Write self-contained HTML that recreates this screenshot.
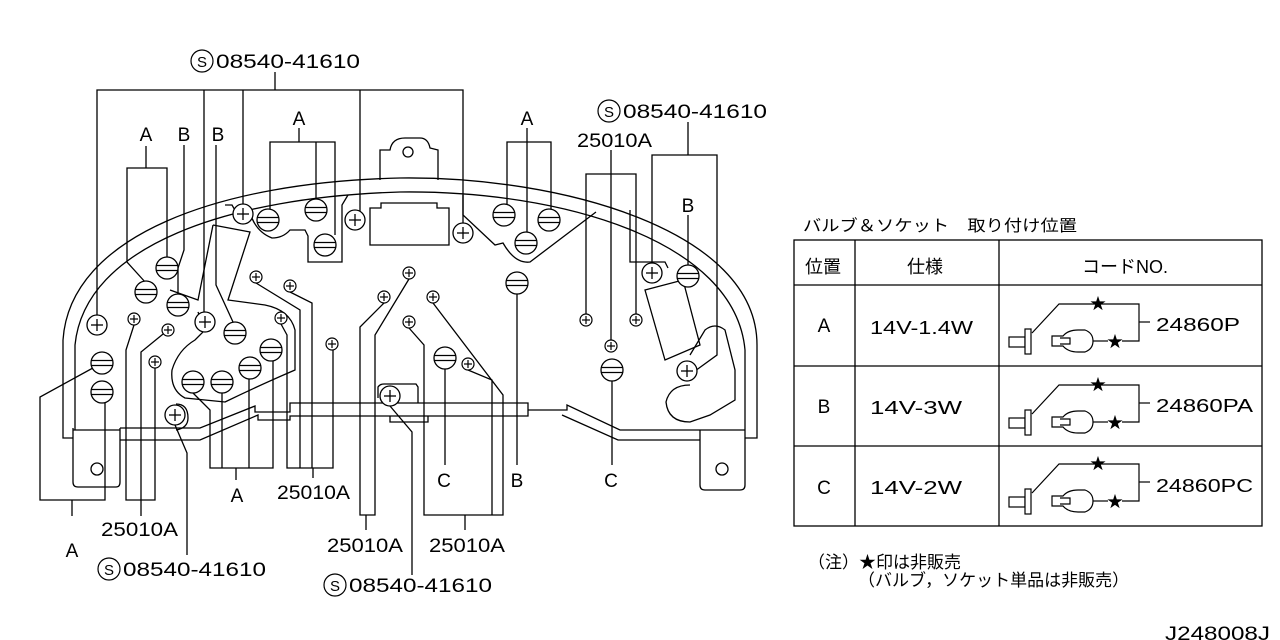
<!DOCTYPE html>
<html><head><meta charset="utf-8"><style>
html,body{margin:0;padding:0;background:#fff;}
svg{display:block;}
text{font-family:"Liberation Sans","Noto Sans CJK JP",sans-serif;fill:#000;}
</style></head><body>
<svg width="1280" height="640" viewBox="0 0 1280 640" xmlns="http://www.w3.org/2000/svg">
<defs>
<g id="bulb"><circle r="11" fill="#fff" stroke="#000" stroke-width="1.3"/><line x1="-10.5" y1="-2.5" x2="10.5" y2="-2.5" stroke="#000" stroke-width="1.3"/><line x1="-10.5" y1="2.5" x2="10.5" y2="2.5" stroke="#000" stroke-width="1.3"/></g>
<g id="scr"><circle r="10" fill="#fff" stroke="#000" stroke-width="1.3"/><line x1="-6" y1="0" x2="6" y2="0" stroke="#000" stroke-width="1.3"/><line x1="0" y1="-6" x2="0" y2="6" stroke="#000" stroke-width="1.3"/></g>
<g id="sm"><circle r="6" fill="#fff" stroke="#000" stroke-width="1.2"/><line x1="-4" y1="0" x2="4" y2="0" stroke="#000" stroke-width="1.2"/><line x1="0" y1="-4" x2="0" y2="4" stroke="#000" stroke-width="1.2"/></g>
<g id="cord" fill="none" stroke="#000" stroke-width="1.2">
<rect x="1009" y="337" width="16" height="10" fill="#fff"/>
<rect x="1025" y="329" width="6" height="25" fill="#fff"/>
<polyline points="1032,333 1059,304 1139,304 1139,341 1122,341"/>
<line x1="1139" y1="322" x2="1150" y2="322"/>
<path d="M1052,336 L1063,336 Q1068,330 1078,330 L1085,330 Q1093,333 1093,341 Q1093,349 1085,352 L1078,352 Q1068,352 1063,346 L1052,346 Z M1060,338 L1070,338 L1070,344 L1060,344"/>
<line x1="1093" y1="341" x2="1108" y2="341"/>
<text x="1098" y="309" font-size="16" text-anchor="middle" stroke="none" fill="#000">★</text>
<text x="1115" y="347" font-size="16" text-anchor="middle" stroke="none" fill="#000">★</text>
</g>
</defs>

<g fill="none" stroke="#000" stroke-width="1.3">
<!-- housing -->
<path d="M73,438 L63,438 L63,340 C70,235 220,182 400,178 C560,176 757,230 757,345 L757,438 L745,438"/>
<path d="M75,430 L75,345 C85,245 230,197 400,192 C560,190 735,240 745,350 L745,430"/>
<!-- top boss -->
<path d="M380,180 L380,150 L390,150 Q392,138 405,138 L420,138 Q428,138 430,148 L438,150 L438,180"/>
<circle cx="408" cy="152" r="5"/>
<path d="M370,208 L381,208 L381,203 L437,203 L437,208 L449,208 L449,245 L370,245 Z"/>
<!-- inner plates -->
<path d="M225,205 L232,205 L236,212 L250,213 Q256,232 272,238 Q283,238 290,230 L305,230 L308,236 L308,262 L342,262 L342,205 L348,195"/>
<path d="M463,195 L463,215 L495,245 L503,243 Q515,264 530,262 L596,212"/>
<path d="M630,210 L630,262 L665,262 L668,268"/>
<path d="M213,225 L250,232 L228,300 L265,305 Q290,310 295,330 L295,370 Q260,385 225,402 L185,398 Q170,390 172,370 Q178,350 195,340 L205,330 L198,312"/>
<path d="M213,225 L205,265 L198,300 L170,290"/>
<path d="M645,290 L683,280 L700,345 L665,360 Z"/>
<path d="M690,355 L705,330 Q715,322 725,330 L735,370 L735,400 L710,415 L690,422 Q668,422 666,402 Q670,385 690,385"/>
<!-- bottom bar -->
<path d="M73,430 L120,430 M120,428 L200,428 L255,406 L255,412 L290,412 L290,403 L528,403 L528,416 L290,416 L290,420 L258,420 L258,415 L200,440 L120,440"/>
<path d="M528,410 L567,410 L567,405 L620,430 L745,430"/>
<path d="M562,415 L618,440 L700,440"/>
<path d="M378,398 L378,387 Q380,384 384,384 L416,384 L418,387 L418,403"/>
<path d="M390,416 L390,422 L428,422 L428,416"/>
<path d="M73,428 L73,482 Q73,487 78,487 L116,487 Q120,487 120,482 L120,428"/>
<circle cx="97" cy="469" r="6"/>
<path d="M700,430 L700,485 Q700,490 705,490 L740,490 Q745,490 745,485 L745,430"/>
<circle cx="722" cy="469" r="6"/>
<path d="M176,404 Q188,404 188,418 Q188,428 176,430" />

<line x1="275" y1="72" x2="275" y2="90"/>
<polyline points="97,325 97,90 463,90 463,233"/>
<line x1="204" y1="90" x2="204" y2="322"/>
<line x1="243" y1="90" x2="243" y2="214"/>
<line x1="360" y1="90" x2="360" y2="220"/>
<line x1="146" y1="146" x2="146" y2="168"/>
<polyline points="146,283 127,262 127,168 167,168 167,258"/>
<polyline points="184,145 184,250 178,268 178,297"/>
<polyline points="216,145 216,285 233,322"/>
<line x1="299" y1="128" x2="299" y2="142"/>
<polyline points="270,210 270,142 335,142 335,235"/>
<line x1="316" y1="142" x2="316" y2="200"/>
<polyline points="507,205 507,142 551,142 551,210"/>
<line x1="527" y1="128" x2="527" y2="233"/>
<line x1="688" y1="122" x2="688" y2="155"/>
<polyline points="652,263 652,155 717,155 717,355 695,371"/>
<line x1="611" y1="150" x2="611" y2="340"/>
<polyline points="586,314 586,174 636,174 636,314"/>
<line x1="688" y1="215" x2="688" y2="266"/>
<polyline points="102,363 40,397 40,500 105,500 105,403"/>
<line x1="72" y1="500" x2="72" y2="516"/>
<polyline points="134,325 126,350 126,500 155,500 155,368"/>
<polyline points="168,330 141,352 141,500"/>
<line x1="141" y1="500" x2="141" y2="516"/>
<polyline points="175,425 187,453 187,555"/>
<polyline points="193,393 210,410 210,468 273,468 273,360"/>
<line x1="222" y1="393" x2="222" y2="468"/>
<line x1="249" y1="378" x2="249" y2="468"/>
<line x1="236" y1="468" x2="236" y2="480"/>
<polyline points="281,324 287,335 287,468 333,468 333,350"/>
<polyline points="256,283 300,310 300,468"/>
<polyline points="290,292 312,303 312,468"/>
<line x1="313" y1="468" x2="313" y2="478"/>
<polyline points="384,303 360,327 360,515 375,515 375,335 409,279"/>
<line x1="366" y1="515" x2="366" y2="530"/>
<polyline points="409,328 424,345 424,515 503,515 503,395 433,303"/>
<line x1="465" y1="515" x2="465" y2="530"/>
<polyline points="468,370 492,380 492,515"/>
<polyline points="390,406 412,432 412,575"/>
<line x1="445" y1="368" x2="445" y2="465"/>
<line x1="517" y1="293" x2="517" y2="465"/>
<line x1="612" y1="380" x2="612" y2="465"/>
</g>

<use href="#bulb" x="268" y="220"/><use href="#bulb" x="316" y="210"/><use href="#bulb" x="325" y="245"/>
<use href="#bulb" x="167" y="268"/><use href="#bulb" x="146" y="292"/><use href="#bulb" x="178" y="305"/>
<use href="#bulb" x="235" y="333"/><use href="#bulb" x="271" y="350"/><use href="#bulb" x="250" y="368"/>
<use href="#bulb" x="222" y="382"/><use href="#bulb" x="193" y="382"/>
<use href="#bulb" x="102" y="363"/><use href="#bulb" x="102" y="392"/>
<use href="#bulb" x="504" y="215"/><use href="#bulb" x="549" y="220"/><use href="#bulb" x="526" y="243"/>
<use href="#bulb" x="517" y="283"/><use href="#bulb" x="445" y="358"/><use href="#bulb" x="612" y="370"/><use href="#bulb" x="688" y="276"/>
<use href="#scr" x="243" y="214"/><use href="#scr" x="355" y="220"/><use href="#scr" x="463" y="233"/>
<use href="#scr" x="97" y="325"/><use href="#scr" x="205" y="322"/><use href="#scr" x="175" y="415"/>
<use href="#scr" x="390" y="396"/><use href="#scr" x="652" y="273"/><use href="#scr" x="687" y="371"/>
<use href="#sm" x="256" y="277"/><use href="#sm" x="290" y="286"/><use href="#sm" x="134" y="319"/>
<use href="#sm" x="168" y="330"/><use href="#sm" x="155" y="362"/><use href="#sm" x="281" y="318"/>
<use href="#sm" x="332" y="344"/><use href="#sm" x="409" y="273"/><use href="#sm" x="384" y="297"/>
<use href="#sm" x="433" y="297"/><use href="#sm" x="409" y="322"/><use href="#sm" x="468" y="364"/>
<use href="#sm" x="586" y="320"/><use href="#sm" x="636" y="320"/><use href="#sm" x="611" y="346"/>

<g font-size="19">
<circle cx="202" cy="61" r="11" fill="none" stroke="#000" stroke-width="1.2"/><text x="202" y="67" font-size="15" text-anchor="middle">S</text>
<text x="216" y="68" textLength="144" lengthAdjust="spacingAndGlyphs">08540-41610</text>
<circle cx="609" cy="111" r="11" fill="none" stroke="#000" stroke-width="1.2"/><text x="609" y="117" font-size="15" text-anchor="middle">S</text>
<text x="623" y="118" textLength="144" lengthAdjust="spacingAndGlyphs">08540-41610</text>
<text x="577" y="147" textLength="75" lengthAdjust="spacingAndGlyphs">25010A</text>
<text x="146" y="141" text-anchor="middle">A</text>
<text x="184" y="141" text-anchor="middle">B</text>
<text x="218" y="141" text-anchor="middle">B</text>
<text x="299" y="125" text-anchor="middle">A</text>
<text x="527" y="125" text-anchor="middle">A</text>
<text x="688" y="212" text-anchor="middle">B</text>
<text x="72" y="557" text-anchor="middle">A</text>
<text x="101" y="536" textLength="77" lengthAdjust="spacingAndGlyphs">25010A</text>
<circle cx="109" cy="569" r="11" fill="none" stroke="#000" stroke-width="1.2"/><text x="109" y="575" font-size="15" text-anchor="middle">S</text>
<text x="123" y="576" textLength="143" lengthAdjust="spacingAndGlyphs">08540-41610</text>
<text x="237" y="502" text-anchor="middle">A</text>
<text x="277" y="499" textLength="73" lengthAdjust="spacingAndGlyphs">25010A</text>
<text x="444" y="487" text-anchor="middle">C</text>
<text x="517" y="487" text-anchor="middle">B</text>
<text x="611" y="487" text-anchor="middle">C</text>
<text x="327" y="552" textLength="76" lengthAdjust="spacingAndGlyphs">25010A</text>
<text x="429" y="552" textLength="76" lengthAdjust="spacingAndGlyphs">25010A</text>
<circle cx="335" cy="585" r="11" fill="none" stroke="#000" stroke-width="1.2"/><text x="335" y="591" font-size="15" text-anchor="middle">S</text>
<text x="349" y="592" textLength="143" lengthAdjust="spacingAndGlyphs">08540-41610</text>
<text x="1165" y="640" textLength="105" lengthAdjust="spacingAndGlyphs">J248008J</text>
</g>

<text x="803" y="231" font-size="16" textLength="274" lengthAdjust="spacingAndGlyphs">バルブ＆ソケット　取り付け位置</text>
<g fill="none" stroke="#000" stroke-width="1.3">
<rect x="794" y="240" width="468" height="286"/>
<line x1="855" y1="240" x2="855" y2="526"/>
<line x1="999" y1="240" x2="999" y2="526"/>
<line x1="794" y1="285" x2="1262" y2="285"/>
<line x1="794" y1="366" x2="1262" y2="366"/>
<line x1="794" y1="446" x2="1262" y2="446"/>
</g>
<g font-size="18">
<text x="823" y="273" text-anchor="middle">位置</text>
<text x="925" y="273" text-anchor="middle">仕様</text>
<text x="1125" y="273" text-anchor="middle">コードNO.</text>
<text x="824" y="332" text-anchor="middle" font-size="19">A</text>
<text x="824" y="413" text-anchor="middle" font-size="19">B</text>
<text x="824" y="494" text-anchor="middle" font-size="19">C</text>
<text x="870" y="334" textLength="103" lengthAdjust="spacingAndGlyphs">14V-1.4W</text>
<text x="870" y="414" textLength="92" lengthAdjust="spacingAndGlyphs">14V-3W</text>
<text x="870" y="494" textLength="92" lengthAdjust="spacingAndGlyphs">14V-2W</text>
<text x="1156" y="331" textLength="84" lengthAdjust="spacingAndGlyphs">24860P</text>
<text x="1156" y="412" textLength="97" lengthAdjust="spacingAndGlyphs">24860PA</text>
<text x="1156" y="492" textLength="97" lengthAdjust="spacingAndGlyphs">24860PC</text>
</g>
<use href="#cord"/>
<use href="#cord" y="81"/>
<use href="#cord" y="160"/>
<text x="808" y="568" font-size="17">（注）★印は非販売</text>
<text x="858" y="586" font-size="17">（バルブ，ソケット単品は非販売）</text>
</svg>
</body></html>
